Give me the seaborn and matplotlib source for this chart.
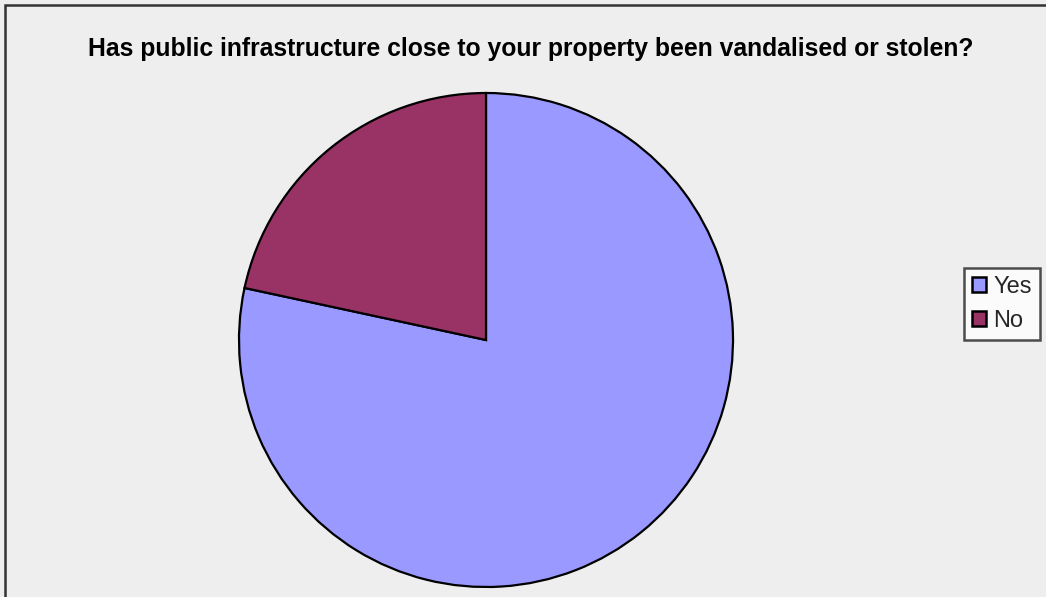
import matplotlib
matplotlib.use("Agg")
import matplotlib.pyplot as plt
from matplotlib.patches import Rectangle
import seaborn as sns

TITLE = "Has public infrastructure close to your property been vandalised or stolen?"
LABELS = ["Yes", "No"]
COUNTS = [29, 8]
COLORS = ["#9999FF", "#993366"]

sns.set_theme(style="white")
plt.rcParams["font.family"] = ["Liberation Sans", "DejaVu Sans"]

W, H = 1046, 597
fig = plt.figure(figsize=(W / 100, H / 100), dpi=100)
fig.patch.set_facecolor("#EEEEEE")

# outer frame (only top and left edges visible in the crop)
fig.add_artist(Rectangle((5 / W, -0.1), 1.2, (H - 5) / H + 0.1, transform=fig.transFigure,
                         fill=False, edgecolor="#333333", linewidth=1.8))

cx, cy, r = 486, 340, 247
ax = fig.add_axes([(cx - r) / W, (H - cy - r) / H, 2 * r / W, 2 * r / H])
ax.set_facecolor("none")
wedges, _ = ax.pie(COUNTS, colors=COLORS, startangle=90, counterclock=False, radius=1,
                   wedgeprops={"edgecolor": "black", "linewidth": 1.6})
ax.set_xlim(-1, 1)
ax.set_ylim(-1, 1)
ax.set_aspect("auto")
ax.axis("off")

fig.text(531 / W, 1 - 56 / H, TITLE, ha="center", va="baseline", fontsize=17.8,
         fontweight="bold", color="black")

handles = [Rectangle((0, 0), 1, 1, facecolor=c, edgecolor="black", linewidth=1.8) for c in COLORS]
leg = fig.legend(handles, LABELS, loc="upper left", bbox_to_anchor=(964 / W, 1 - 268 / H),
                 frameon=True, fancybox=False, fontsize=17, handlelength=0.6, handleheight=0.6,
                 handletextpad=0.3, borderpad=0.35, labelspacing=0.5, borderaxespad=0)
leg.get_frame().set_edgecolor("#222222")
leg.get_frame().set_linewidth(1.8)
leg.get_frame().set_facecolor("white")

fig.savefig("out.png", dpi=100, facecolor=fig.get_facecolor())
